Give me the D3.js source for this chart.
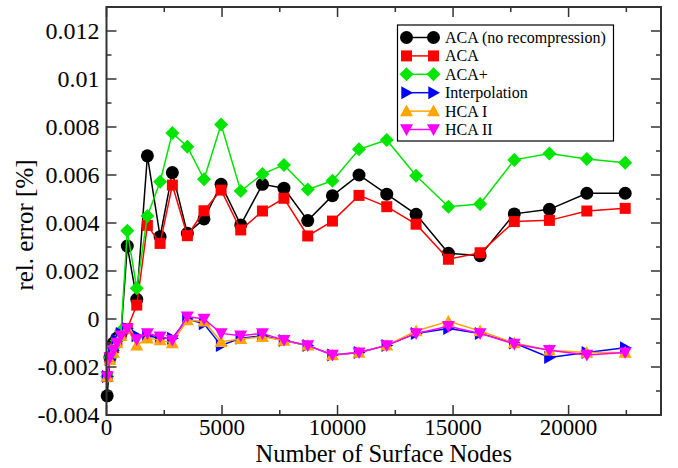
<!DOCTYPE html>
<html>
<head>
<meta charset="utf-8">
<script src="https://cdn.jsdelivr.net/npm/d3@7"></script>
<style>
  body { margin: 0; background: #fff; }
</style>
</head>
<body>
<div id="chart"></div>
<script>
// data
var nodes = [30, 150, 300, 450, 630, 900, 1310, 1770, 2320, 2850, 3500, 4220, 4960, 5810, 6750, 7680, 8710, 9780, 10930, 12130, 13400, 14800, 16170, 17650, 19170, 20790, 22450];

var acaNoRecomp = [-0.0032, -0.0016, -0.001, -0.0008, -0.0006, 0.00304, 0.00082, 0.0068, 0.00343, 0.0061, 0.00357, 0.00417, 0.00561, 0.00392, 0.00561, 0.00545, 0.0041, 0.00514, 0.0060, 0.0052, 0.00436, 0.00274, 0.00264, 0.00438, 0.00457, 0.00524, 0.00524];
var aca = [-0.0024, -0.0016, -0.0012, -0.0009, -0.0006, -0.0004, 0.00058, 0.0039, 0.00315, 0.00558, 0.00347, 0.00451, 0.00537, 0.00371, 0.0045, 0.00503, 0.00346, 0.00408, 0.00515, 0.00468, 0.00395, 0.00249, 0.00276, 0.00406, 0.00411, 0.0045, 0.00461];
var acaPlus = [-0.0024, -0.0016, -0.0012, -0.0009, -0.0005, 0.00368, 0.00128, 0.00429, 0.00572, 0.00775, 0.00718, 0.00582, 0.0081, 0.00533, 0.00604, 0.00642, 0.0054, 0.00576, 0.00707, 0.00746, 0.00597, 0.00468, 0.00479, 0.00663, 0.0069, 0.00667, 0.00651];
var interp = [-0.0024, -0.0017, -0.0013, -0.0009, -0.0006, -0.0004, -0.0007, -0.0007, -0.0008, -0.0008, 0.0, -0.0002, -0.0011, -0.0008, -0.0007, -0.0009, -0.0011, -0.0015, -0.0014, -0.0011, -0.0006, -0.0004, -0.0006, -0.001, -0.0016, -0.0014, -0.0012];
var hca1 = [-0.0024, -0.0017, -0.0014, -0.001, -0.0007, -0.0004, -0.0011, -0.0008, -0.00088, -0.001, -0.00004, -0.0001, -0.00095, -0.00083, -0.00074, -0.0009, -0.0011, -0.0015, -0.0014, -0.0011, -0.0005, -0.0001, -0.0005, -0.001, -0.0013, -0.0014, -0.0014];
var hca2 = [-0.0024, -0.0016, -0.0013, -0.001, -0.0007, -0.0004, -0.00085, -0.0006, -0.00074, -0.00088, 0.0001, 0.0, -0.0006, -0.0007, -0.0006, -0.00088, -0.0011, -0.0015, -0.0014, -0.0011, -0.0006, -0.0003, -0.0006, -0.00104, -0.0013, -0.0015, -0.0014];

var seriesNames = ["ACA (no recompression)", "ACA", "ACA+", "Interpolation", "HCA I", "HCA II"];
var seriesValues = [acaNoRecomp, aca, acaPlus, interp, hca1, hca2];
var seriesColors = ["#000000", "#ff0000", "#00e600", "#0000ff", "#ffa500", "#ff00ff"];
var seriesShapes = ["circle", "square", "diamond", "right", "up", "down"];

var xTicks = [0, 5000, 10000, 15000, 20000];
var yTicks = [-0.004, -0.002, 0, 0.002, 0.004, 0.006, 0.008, 0.01, 0.012];

var serif = "Liberation Serif";

var width = 678, height = 468;
var margin = {top: 7, right: 17, bottom: 53, left: 106.5};

var svg = d3.select("#chart").append("svg")
    .attr("width", width)
    .attr("height", height);

var x = d3.scaleLinear().domain([0, 24000]).range([margin.left, width - margin.right]);
var y = d3.scaleLinear().domain([-0.004, 0.013]).range([height - margin.bottom, margin.top]);

// marker paths, s = half width
function marker(shape, s) {
  if (shape == "circle") return "M" + (-s) + ",0A" + s + "," + s + " 0 1,0 " + s + ",0A" + s + "," + s + " 0 1,0 " + (-s) + ",0Z";
  if (shape == "square") return "M" + (-s) + "," + (-s) + "H" + s + "V" + s + "H" + (-s) + "Z";
  if (shape == "diamond") return "M0," + (-s) + "L" + s + ",0L0," + s + "L" + (-s) + ",0Z";
  if (shape == "up") return "M0," + (-s) + "L" + s + "," + s * 0.8 + "L" + (-s) + "," + s * 0.8 + "Z";
  if (shape == "down") return "M0," + s + "L" + s + "," + (-s * 0.8) + "L" + (-s) + "," + (-s * 0.8) + "Z";
  if (shape == "right") return "M" + s + ",0L" + (-s * 0.8) + "," + s + "L" + (-s * 0.8) + "," + (-s) + "Z";
}
var markerSize = {circle: 6.5, square: 5.5, diamond: 7, right: 6.5, up: 6.5, down: 6.5};

var line = d3.line()
    .x(function(d) { return x(d[0]); })
    .y(function(d) { return y(d[1]); });

// series
seriesValues.forEach(function(vals, i) {
  var pts = nodes.map(function(n, j) { return [n, vals[j]]; });
  var g = svg.append("g");
  g.append("path")
    .datum(pts)
    .attr("d", line)
    .attr("fill", "none")
    .attr("stroke", seriesColors[i])
    .attr("stroke-width", 1.5);
  g.selectAll(".m")
    .data(pts)
    .enter().append("path")
      .attr("transform", function(d) { return "translate(" + x(d[0]) + "," + y(d[1]) + ")"; })
      .attr("d", marker(seriesShapes[i], markerSize[seriesShapes[i]]))
      .attr("fill", seriesColors[i]);
});

// frame + ticks (inward on all sides)
var frameColor = "#333";
var x0 = x.range()[0], x1 = x.range()[1], y0 = y.range()[0], y1 = y.range()[1];

d3.range(0, 24001, 2500).forEach(function(v) {
  var len = (v % 5000 == 0) ? 10 : 5;
  svg.append("line").attr("x1", x(v)).attr("x2", x(v)).attr("y1", y0).attr("y2", y0 - len)
    .attr("stroke", frameColor).attr("stroke-width", 1.5);
  svg.append("line").attr("x1", x(v)).attr("x2", x(v)).attr("y1", y1).attr("y2", y1 + len)
    .attr("stroke", frameColor).attr("stroke-width", 1.5);
});
d3.range(-4, 14, 1).forEach(function(k) {
  var v = k / 1000;
  var len = (k % 2 == 0) ? 10 : 5;
  svg.append("line").attr("x1", x0).attr("x2", x0 + len).attr("y1", y(v)).attr("y2", y(v))
    .attr("stroke", frameColor).attr("stroke-width", 1.5);
  svg.append("line").attr("x1", x1).attr("x2", x1 - len).attr("y1", y(v)).attr("y2", y(v))
    .attr("stroke", frameColor).attr("stroke-width", 1.5);
});
svg.append("rect")
  .attr("x", x0).attr("y", y1)
  .attr("width", x1 - x0).attr("height", y0 - y1)
  .attr("fill", "none").attr("stroke", frameColor).attr("stroke-width", 2);

// tick labels
svg.selectAll(".xl")
  .data(xTicks)
  .enter().append("text")
    .attr("x", function(d) { return x(d); })
    .attr("y", y0 + 20)
    .attr("text-anchor", "middle")
    .attr("font-family", serif)
    .attr("font-size", 23)
    .text(function(d) { return d; });

svg.selectAll(".yl")
  .data(yTicks)
  .enter().append("text")
    .attr("x", x0 - 7)
    .attr("y", function(d) { return y(d) + 8; })
    .attr("text-anchor", "end")
    .attr("font-family", serif)
    .attr("font-size", 24)
    .text(function(d) { return d == 0 ? "0" : String(+d.toFixed(3)); });

// axis titles
svg.append("text")
  .attr("x", (x0 + x1) / 2)
  .attr("y", 462)
  .attr("text-anchor", "middle")
  .attr("font-family", serif)
  .attr("font-size", 24.5)
  .text("Number of Surface Nodes");

svg.append("text")
  .attr("transform", "translate(33,225) rotate(-90)")
  .attr("text-anchor", "middle")
  .attr("font-family", serif)
  .attr("font-size", 25)
  .text("rel. error [%]");

// legend
var lg = svg.append("g");
lg.append("rect")
  .attr("x", 397.5).attr("y", 25)
  .attr("width", 216).attr("height", 116)
  .attr("fill", "#fff").attr("stroke", "#000").attr("stroke-width", 1.2);

var leg = lg.selectAll(".legend")
  .data(seriesNames)
  .enter().append("g")
    .attr("transform", function(d, i) { return "translate(0," + (37.5 + i * 18.4) + ")"; });

leg.append("line")
  .attr("x1", 406.5).attr("x2", 433.5)
  .attr("stroke", function(d, i) { return seriesColors[i]; })
  .attr("stroke-width", 1.5);
[406.5, 433.5].forEach(function(px) {
  leg.append("path")
    .attr("transform", "translate(" + px + ",0)")
    .attr("d", function(d, i) { return marker(seriesShapes[i], markerSize[seriesShapes[i]]); })
    .attr("fill", function(d, i) { return seriesColors[i]; });
});
leg.append("text")
  .attr("x", 445)
  .attr("y", 5.5)
  .attr("font-family", serif)
  .attr("font-size", 16)
  .text(function(d) { return d; });
</script>
</body>
</html>
